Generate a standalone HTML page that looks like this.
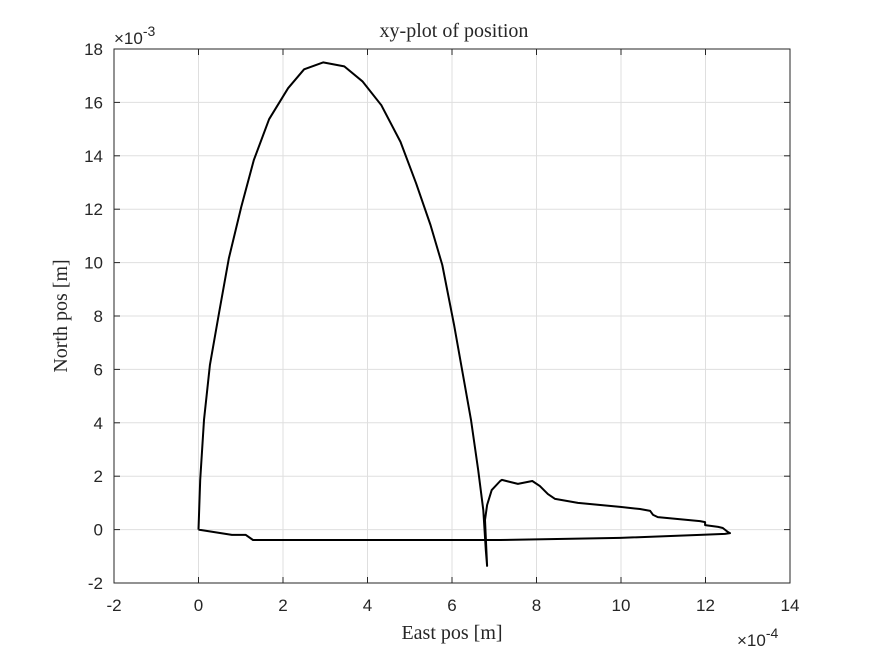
<!DOCTYPE html>
<html><head><meta charset="utf-8"><style>
html,body{margin:0;padding:0;background:#fff}
svg{display:block}
.t{font-family:"Liberation Sans",sans-serif;font-size:17px;fill:#262626}
.s{font-family:"Liberation Serif",serif;font-size:20px;fill:#262626}
</style></head><body>
<svg id="c" width="875" height="656">
<rect x="0" y="0" width="875" height="656" fill="#fff"/>
<rect x="114" y="49" width="676" height="534" fill="#fff"/>
<g id="grid"></g>
<g id="ticks"></g>
<polyline id="trace" fill="none" stroke="#000" stroke-width="2" stroke-linejoin="round"/>
<rect x="114" y="49" width="676" height="534" fill="none" stroke="#262626" stroke-width="1"/>
<text class="s" x="454" y="37" text-anchor="middle">xy-plot of position</text>
<text class="s" x="452" y="639" text-anchor="middle">East pos [m]</text>
<text class="s" transform="translate(67,316) rotate(-90)" text-anchor="middle">North pos [m]</text>
<text class="t" x="737" y="646">×10<tspan dy="-8" font-size="14">-4</tspan></text>
<text class="t" x="114" y="44">×10<tspan dy="-8" font-size="14">-3</tspan></text>
</svg>
<script>
const xTicks=[-2,0,2,4,6,8,10,12,14];
const yTicks=[-2,0,2,4,6,8,10,12,14,16,18];
const eastVals=[0,0.04,0.13,0.27,0.49,0.72,1.01,1.31,1.67,2.12,2.50,2.95,3.45,3.88,4.33,4.78,5.15,5.49,5.77,6.05,6.26,6.45,6.62,6.74,6.80,6.83,6.78,6.83,6.94,7.14,7.18,7.56,7.90,8.08,8.27,8.44,8.98,9.98,10.45,10.69,10.76,10.87,11.87,11.99,11.99,12.30,12.41,12.53,12.58,12.46,11.87,9.98,7.14,4.77,1.29,1.12,0.79,0];
const northVals=[0,1.86,4.11,6.16,8.15,10.17,12.08,13.84,15.37,16.53,17.24,17.50,17.35,16.79,15.89,14.52,12.97,11.41,9.91,7.66,5.79,4.11,2.23,0.73,-0.76,-1.36,0.36,0.92,1.48,1.82,1.86,1.71,1.82,1.63,1.33,1.15,1.00,0.85,0.77,0.70,0.55,0.47,0.32,0.28,0.17,0.10,0.06,-0.09,-0.13,-0.16,-0.20,-0.31,-0.39,-0.39,-0.39,-0.20,-0.20,0];
const X0=114,X1=790,Y0=583,Y1=49;
const sx=v=>X0+(v-(-2))/(16)*(X1-X0);
const sy=v=>Y0-(v-(-2))/(20)*(Y0-Y1);
const NS="http://www.w3.org/2000/svg";
const grid=document.getElementById('grid'),ticks=document.getElementById('ticks');
function ln(p,x1,y1,x2,y2,c){const l=document.createElementNS(NS,'line');l.setAttribute('x1',x1);l.setAttribute('y1',y1);l.setAttribute('x2',x2);l.setAttribute('y2',y2);l.setAttribute('stroke',c);l.setAttribute('stroke-width',1);p.appendChild(l);return l;}
xTicks.forEach(v=>{const x=sx(v);
 const g=ln(grid,x,Y0,x,Y1,'#dfdfdf');
 
 
 ln(ticks,x,Y0,x,Y0-6,'#262626');ln(ticks,x,Y1,x,Y1+6,'#262626');
 const t=document.createElementNS(NS,'text');t.setAttribute('class','t');t.setAttribute('x',x);t.setAttribute('y',Y0+28);t.setAttribute('text-anchor','middle');t.textContent=v;
 
 
 ticks.appendChild(t);});
yTicks.forEach(v=>{const y=sy(v);
 const g=ln(grid,X0,y,X1,y,'#dfdfdf');
 
 
 ln(ticks,X0,y,X0+6,y,'#262626');ln(ticks,X1,y,X1-6,y,'#262626');
 const t=document.createElementNS(NS,'text');t.setAttribute('class','t');t.setAttribute('x',X0-11);t.setAttribute('y',y+6);t.setAttribute('text-anchor','end');t.textContent=v;
 
 
 ticks.appendChild(t);});
document.getElementById('trace').setAttribute('points',eastVals.map((e,i)=>sx(e).toFixed(1)+','+sy(northVals[i]).toFixed(1)).join(' '));
</script>
</body></html>
